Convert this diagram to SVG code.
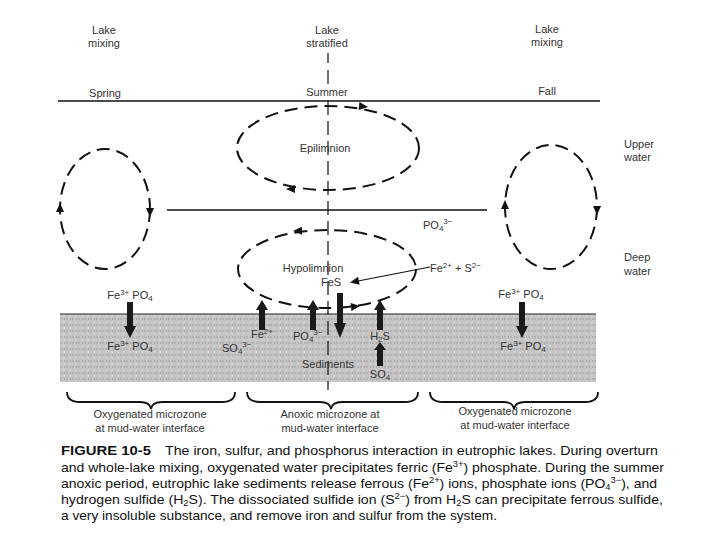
<svg xmlns="http://www.w3.org/2000/svg" width="720" height="540" viewBox="0 0 720 540">
<defs>
<style>
.lbl{font-family:"Liberation Sans",Arial,sans-serif;font-size:11px;fill:#333}
.cap{font-family:"Liberation Sans",Arial,sans-serif;font-size:13.5px;fill:#111}
.capb{font-family:"Liberation Sans",Arial,sans-serif;font-size:13.5px;font-weight:bold;fill:#111}
.dash{fill:none;stroke:#111;stroke-width:2;stroke-dasharray:13 7}
.vdash{fill:none;stroke:#111;stroke-width:1.2;stroke-dasharray:14 6}
.line{fill:none;stroke:#111;stroke-width:1.5}
.brace{fill:none;stroke:#111;stroke-width:1.8}
.ah{fill:#111}
.thick{fill:#1a1a1a}
.s{font-size:8px}
.cs{font-size:9px}
</style>
<path id="head" d="M0,0 L-9,-4 L-9,4 Z"/>
<path id="tup" d="M0,0 L6,10 L3,10 L3,30 L-3,30 L-3,10 L-6,10 Z"/>
<pattern id="sed" width="6" height="6" patternUnits="userSpaceOnUse">
<rect width="6" height="6" fill="#c4c4c4"/>
<rect x="0" y="0" width="2" height="2" fill="#b2b2b2"/>
<rect x="3" y="3" width="2" height="2" fill="#d2d2d2"/>
<rect x="4" y="0" width="1" height="2" fill="#aaaaaa"/>
</pattern>
</defs>

<g id="sediments">
<rect x="60" y="314" width="536" height="68" fill="url(#sed)"/>
<line x1="60" y1="314" x2="596" y2="314" stroke="#222" stroke-width="1.2"/>
</g>

<g id="header" class="lbl">
<text x="104" y="34" text-anchor="middle">Lake</text>
<text x="104" y="47" text-anchor="middle">mixing</text>
<text x="327" y="34" text-anchor="middle">Lake</text>
<text x="327" y="47" text-anchor="middle">stratified</text>
<text x="547" y="33" text-anchor="middle">Lake</text>
<text x="547" y="46" text-anchor="middle">mixing</text>
<text x="105" y="97" text-anchor="middle">Spring</text>
<text x="327" y="96" text-anchor="middle">Summer</text>
<text x="547" y="95" text-anchor="middle">Fall</text>
<text x="624" y="148">Upper</text>
<text x="624" y="161">water</text>
<text x="624" y="261">Deep</text>
<text x="624" y="275">water</text>
</g>

<g id="lines">
<line class="line" x1="58" y1="101" x2="600" y2="101"/>
<line class="line" x1="167" y1="210" x2="487" y2="210"/>
<line x1="328" y1="53" x2="328" y2="63" stroke="#111" stroke-width="1.2"/>
<line x1="328" y1="70" x2="328" y2="84" stroke="#111" stroke-width="1.2"/>
<line class="vdash" x1="328" y1="101" x2="328" y2="390"/>
</g>

<g id="epilimnion">
<ellipse class="dash" cx="328" cy="148" rx="91" ry="42"/>
<use href="#head" class="ah" transform="translate(368,107) rotate(6)"/>
<use href="#head" class="ah" transform="translate(286,189) rotate(180)"/>
<text class="lbl" x="325" y="152" text-anchor="middle">Epilimnion</text>
</g>

<g id="hypolimnion">
<ellipse class="dash" cx="327" cy="269" rx="89" ry="39"/>
<use href="#head" class="ah" transform="translate(293,231) rotate(178)"/>
<use href="#head" class="ah" transform="translate(360,306) rotate(-6)"/>
<text class="lbl" x="313" y="272" text-anchor="middle">Hypolimnion</text>
</g>

<g id="mix-left">
<ellipse class="dash" cx="105" cy="209" rx="45" ry="60"/>
<use href="#head" class="ah" transform="translate(60,203) rotate(-90)"/>
<use href="#head" class="ah" transform="translate(150,217) rotate(90)"/>
</g>

<g id="mix-right">
<ellipse class="dash" cx="551" cy="207" rx="46" ry="62"/>
<use href="#head" class="ah" transform="translate(505,200) rotate(-90)"/>
<use href="#head" class="ah" transform="translate(597,215) rotate(90)"/>
</g>

<g id="chem-labels" class="lbl">
<text x="423" y="229">PO<tspan class="s" dy="2">4</tspan><tspan class="s" dy="-7">3−</tspan></text>
<text x="430" y="272">Fe<tspan class="s" dy="-4">2+</tspan><tspan dy="4"> + S</tspan><tspan class="s" dy="-4">2−</tspan></text>
<text x="331" y="286" text-anchor="middle">FeS</text>
<text x="130" y="299" text-anchor="middle">Fe<tspan class="s" dy="-4">3+</tspan><tspan dy="4"> PO</tspan><tspan class="s" dy="2">4</tspan></text>
<text x="130" y="350" text-anchor="middle">Fe<tspan class="s" dy="-4">3+</tspan><tspan dy="4"> PO</tspan><tspan class="s" dy="2">4</tspan></text>
<text x="521" y="298" text-anchor="middle">Fe<tspan class="s" dy="-4">3+</tspan><tspan dy="4"> PO</tspan><tspan class="s" dy="2">4</tspan></text>
<text x="523" y="350" text-anchor="middle">Fe<tspan class="s" dy="-4">3+</tspan><tspan dy="4"> PO</tspan><tspan class="s" dy="2">4</tspan></text>
<text x="262" y="338" text-anchor="middle">Fe<tspan class="s" dy="-4">2+</tspan></text>
<text x="222" y="352">SO<tspan class="s" dy="2">4</tspan><tspan class="s" dy="-7">3−</tspan></text>
<text x="293" y="340">PO<tspan class="s" dy="2">4</tspan><tspan class="s" dy="-7">3−</tspan></text>
<text x="380" y="340" text-anchor="middle">H<tspan class="s" dy="2">2</tspan><tspan dy="-2">S</tspan></text>
<text x="328" y="368" text-anchor="middle">Sediments</text>
<text x="380" y="378" text-anchor="middle">SO<tspan class="s" dy="2">4</tspan></text>
</g>

<g id="connectors">
<line x1="430" y1="267" x2="358" y2="281" stroke="#111" stroke-width="1.2"/>
<use href="#head" class="ah" transform="translate(350,282.5) rotate(169)"/>
<use href="#tup" class="thick" transform="translate(262,300)"/>
<use href="#tup" class="thick" transform="translate(313,300)"/>
<use href="#tup" class="thick" transform="translate(380,300)"/>
<use href="#tup" class="thick" transform="translate(380,342) scale(1,0.8)"/>
<use href="#tup" class="thick" transform="translate(340,338) scale(1,-1.5)"/>
<use href="#tup" class="thick" transform="translate(130,338) scale(1,-1.2)"/>
<use href="#tup" class="thick" transform="translate(522,338) scale(1,-1.2)"/>
</g>

<g id="braces">
<path class="brace" d="M67,392 Q67,402 80,402 L140,402 Q150,402 151,409 Q152,402 162,402 L222,402 Q235,402 235,392"/>
<path class="brace" d="M247,392 Q247,402 260,402 L320,402 Q330,402 331,409 Q332,402 342,402 L405,402 Q418,402 418,392"/>
<path class="brace" d="M430,392 Q430,402 443,402 L503,402 Q513,402 514,409 Q515,402 525,402 L585,402 Q598,402 598,392"/>
</g>

<g id="zone-labels" class="lbl">
<text x="150" y="418" text-anchor="middle">Oxygenated microzone</text>
<text x="150" y="432" text-anchor="middle">at mud-water interface</text>
<text x="330" y="418" text-anchor="middle">Anoxic microzone at</text>
<text x="330" y="432" text-anchor="middle">mud-water interface</text>
<text x="515" y="415" text-anchor="middle">Oxygenated microzone</text>
<text x="515" y="429" text-anchor="middle">at mud-water interface</text>
</g>

<g id="caption">
<text class="capb" x="61" y="455" textLength="90" lengthAdjust="spacingAndGlyphs">FIGURE 10-5</text>
<text class="cap" x="165" y="455" textLength="493" lengthAdjust="spacingAndGlyphs">The iron, sulfur, and phosphorus interaction in eutrophic lakes. During overturn</text>
<text class="cap" x="61" y="471.5" textLength="603" lengthAdjust="spacingAndGlyphs">and whole-lake mixing, oxygenated water precipitates ferric (Fe<tspan class="cs" dy="-5">3+</tspan><tspan dy="5">) phosphate. During the summer</tspan></text>
<text class="cap" x="61" y="488" textLength="596" lengthAdjust="spacingAndGlyphs">anoxic period, eutrophic lake sediments release ferrous (Fe<tspan class="cs" dy="-5">2+</tspan><tspan dy="5">) ions, phosphate ions (PO</tspan><tspan class="cs" dy="2">4</tspan><tspan class="cs" dy="-7">3−</tspan><tspan dy="5">), and</tspan></text>
<text class="cap" x="61" y="504" textLength="602" lengthAdjust="spacingAndGlyphs">hydrogen sulfide (H<tspan class="cs" dy="2">2</tspan><tspan dy="-2">S). The dissociated sulfide ion (S</tspan><tspan class="cs" dy="-5">2−</tspan><tspan dy="5">) from H</tspan><tspan class="cs" dy="2">2</tspan><tspan dy="-2">S can precipitate ferrous sulfide,</tspan></text>
<text class="cap" x="61" y="520" textLength="436" lengthAdjust="spacingAndGlyphs">a very insoluble substance, and remove iron and sulfur from the system.</text>
</g>
</svg>
